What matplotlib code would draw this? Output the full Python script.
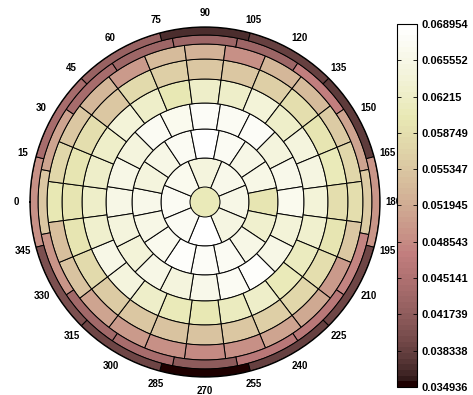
import numpy as np
import matplotlib
matplotlib.use("Agg")
import matplotlib.pyplot as plt
from matplotlib.colors import Normalize
from matplotlib.cm import ScalarMappable

plt.rcParams['font.family'] = ['Liberation Sans', 'DejaVu Sans']

# colour limits of the map
vmin = 0.0349358
vmax = 0.068954

# ring edges (radius) and cell values per ring, cells start at 0 deg and go clockwise
ring_edges = [0, 15, 44, 73, 99, 123, 143, 158, 167, 175]
center = [0.0608]
ring1 = [0.0670, 0.0664, 0.0645, 0.0660, 0.0654, 0.0650, 0.068954, 0.0670]
ring2 = [0.0660, 0.0647, 0.0654, 0.0670, 0.0688, 0.0670, 0.0654, 0.0654,
         0.0598, 0.0628, 0.0654, 0.0670, 0.0677, 0.0681, 0.0664, 0.0654]
ring3 = [0.0654, 0.0654, 0.0647, 0.0670, 0.0664, 0.0677, 0.0670, 0.0677, 0.0647, 0.0660,
         0.0664, 0.0640, 0.0654, 0.0682, 0.0670, 0.0660, 0.0647, 0.0654, 0.0637, 0.0647]
ring4 = [0.0622, 0.0622, 0.0622, 0.0639, 0.0622, 0.0601, 0.0622, 0.0622, 0.0639, 0.0622, 0.0642, 0.0649,
         0.0639, 0.0628, 0.0615, 0.0605, 0.0622, 0.0615, 0.0601, 0.0608, 0.0622, 0.0642, 0.0656, 0.0628]
ring5 = [0.0598, 0.0598, 0.0587, 0.0553, 0.0581, 0.0564, 0.0553, 0.0553, 0.0564, 0.0587, 0.0598, 0.0608,
         0.0587, 0.0594, 0.0587, 0.0574, 0.0567, 0.0553, 0.0547, 0.0547, 0.0553, 0.0560, 0.0581, 0.0594]
ring6 = [0.0601, 0.0574, 0.0553, 0.0533, 0.0499, 0.0540, 0.0526, 0.0492, 0.0533, 0.0540, 0.0560, 0.0574,
         0.0587, 0.0553, 0.0502, 0.0519, 0.0509, 0.0492, 0.0485, 0.0489, 0.0499, 0.0509, 0.0547, 0.0543]
ring7 = [0.0553, 0.0509, 0.0445, 0.0431, 0.0434, 0.0434, 0.0475, 0.0509,
         0.0560, 0.0479, 0.0462, 0.0462, 0.0417, 0.0441, 0.0438, 0.0496]
ring8 = [0.0492, 0.0445, 0.0424, 0.0370, 0.0383, 0.0377, 0.0496, 0.0390, 0.0383, 0.0349358, 0.0390, 0.0400]
rings = [center, ring1, ring2, ring3, ring4, ring5, ring6, ring7, ring8]

theta_ticks = list(range(0, 360, 15))
cbar_ticks = ['0.034936', '0.038338', '0.041739', '0.045141', '0.048543', '0.051945',
              '0.055347', '0.058749', '0.06215', '0.065552', '0.068954']

cmap = plt.get_cmap('pink', 64)
norm = Normalize(vmin=vmin, vmax=vmax)

fig = plt.figure(figsize=(4.73, 3.95), dpi=100)
ax = fig.add_axes([0.0634, 0.0456, 0.740, 0.886], projection='polar')
ax.set_theta_zero_location('W')
ax.set_theta_direction(-1)

for i, vals in enumerate(rings):
    n = len(vals)
    w = 2 * np.pi / n
    th = np.arange(n) * w
    lw = 0 if n == 1 else 0.7
    ax.bar(th, ring_edges[i + 1] - ring_edges[i], width=w, bottom=ring_edges[i],
           color=cmap(norm(np.array(vals))), edgecolor='black', linewidth=lw, align='center')

ax.set_ylim(0, ring_edges[-1])
ax.set_yticks([])
ax.set_xticks(np.deg2rad(theta_ticks))
ax.set_xticklabels([str(t) for t in theta_ticks], fontsize=7, fontweight='bold')
ax.tick_params(axis='x', pad=-0.5)
ax.grid(False)
ax.spines['polar'].set_linewidth(1.0)

cax = fig.add_axes([0.839, 0.0203, 0.042, 0.919])
cb = fig.colorbar(ScalarMappable(norm=norm, cmap=cmap), cax=cax)
cb.set_ticks([float(t) for t in cbar_ticks])
cb.set_ticklabels(cbar_ticks)
cax.tick_params(direction='in', left=True, right=True, length=3, width=0.6, labelsize=8)
for lab in cax.get_yticklabels():
    lab.set_fontweight('bold')
cb.outline.set_linewidth(0.8)

fig.savefig('out.png', dpi=100)
